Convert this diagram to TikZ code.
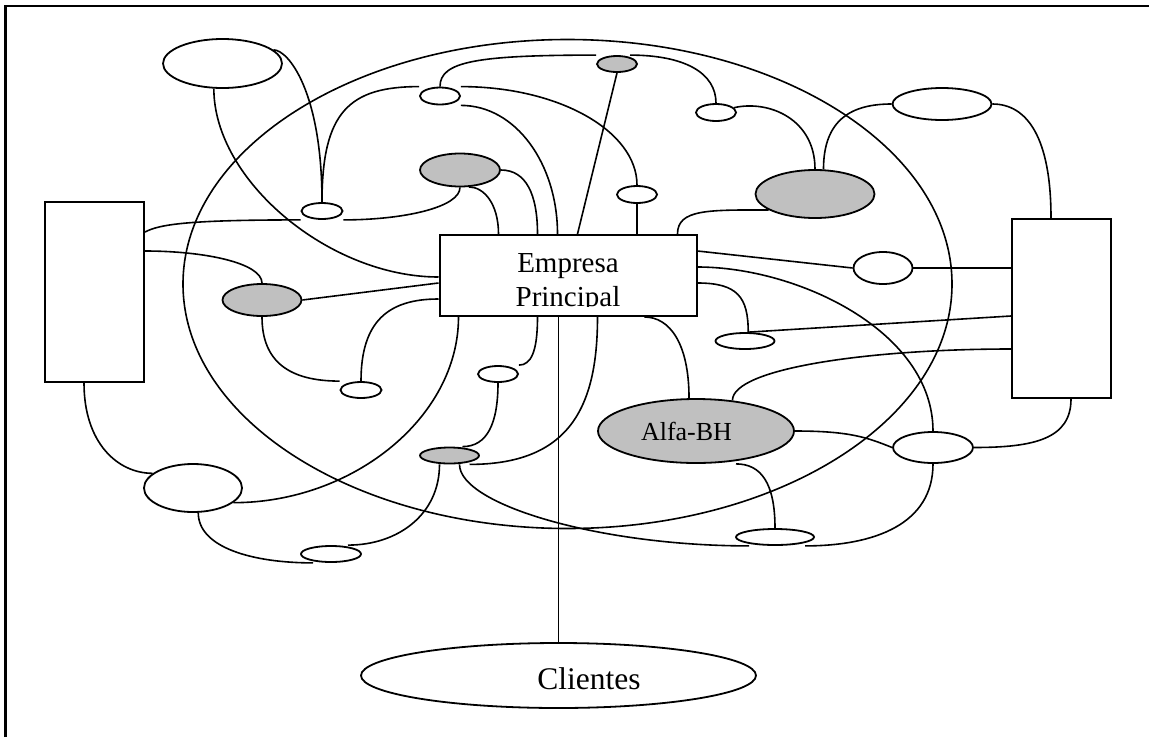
\documentclass[tikz,border=0pt]{standalone}
\usepackage{fontspec}
\setmainfont{Liberation Serif}
\usetikzlibrary{shapes.geometric,calc}
\pgfdeclarelayer{bg}
\pgfdeclarelayer{paper}
\pgfsetlayers{paper,bg,main}
\definecolor{grayfill}{HTML}{C0C0C0}
\tikzset{
  conn/.style={line width=1.6pt},
  oval/.style={draw, ellipse, line width=1.8pt, fill=white, inner sep=0pt},
  goval/.style={oval, fill=grayfill},
  boxnode/.style={draw, rectangle, line width=2pt, fill=white, inner sep=0pt},
}
\begin{document}
\begin{tikzpicture}[x=1pt,y=-1pt]
\useasboundingbox (0,0) rectangle (1149,737);
\begin{pgfonlayer}{paper}
\fill[white] (0,0) rectangle (1149,737);
\end{pgfonlayer}
\draw[line width=2.2pt] (5.5,737) -- (5.5,6) -- (1149,6);

% nodes
\node[oval, minimum width=119, minimum height=49] (TL) at (222.5,63.5) {};
\node[oval, minimum width=41, minimum height=16] (S1) at (322,211) {};
\node[oval, minimum width=40, minimum height=17] (S2) at (440,96) {};
\node[goval, minimum width=80, minimum height=33] (G1) at (460,170) {};
\node[goval, minimum width=40, minimum height=16] (G2) at (617,64) {};
\node[oval, minimum width=40, minimum height=17] (S3) at (716,112.5) {};
\node[oval, minimum width=40, minimum height=17] (S4) at (637,194.5) {};
\node[goval, minimum width=119, minimum height=48] (G3) at (815,194) {};
\node[oval, minimum width=99, minimum height=32] (TR) at (942,104) {};
\node[boxnode, minimum width=99, minimum height=180] (LR) at (94.5,292) {};
\node[boxnode, minimum width=99, minimum height=179] (RR) at (1061.5,308.5) {};
\node[boxnode, minimum width=257, minimum height=81] (emp) at (568,275.5) {};
\node[oval, minimum width=59, minimum height=32] (S5) at (883,268) {};
\node[oval, minimum width=59, minimum height=16] (S6) at (745,341) {};
\node[goval, minimum width=196, minimum height=64] (alfa) at (696,431) {};
\node[oval, minimum width=80, minimum height=31] (S7) at (933,447.5) {};
\node[oval, minimum width=78, minimum height=16] (S8) at (775,537) {};
\node[goval, minimum width=59, minimum height=16] (G5) at (449.5,455.5) {};
\node[oval, minimum width=40, minimum height=16] (S10) at (498,374) {};
\node[oval, minimum width=60, minimum height=16] (S9) at (331,554) {};
\node[oval, minimum width=98, minimum height=48] (M) at (193,488) {};
\node[goval, minimum width=79, minimum height=32] (G4) at (262,300) {};
\node[oval, minimum width=41, minimum height=16] (S11) at (361,390) {};
\node[oval, minimum width=395, minimum height=65] (cli) at (558.5,675.5) {};

% texts
\begin{scope}
  \clip (emp.north west) rectangle ($(emp.east)+(0,30.5)$);
  \node[font=\fontsize{29}{33}\selectfont, anchor=base] (empA) at (568,272.7) {Empresa};
  \node[font=\fontsize{29}{33}\selectfont, anchor=base] (empB) at (568,306) {Principal};
\end{scope}
\node[font=\fontsize{26}{30}\selectfont, anchor=base] (alfaT) at (686.5,440) {Alfa-BH};
\node[font=\fontsize{31.5}{36}\selectfont, anchor=base] (cliT) at (589,689) {Clientes};

\begin{pgfonlayer}{bg}
\draw[conn] (567.5,284) ellipse [x radius=384.5, y radius=244.5];

\draw[conn] (TL.251) .. controls +(0,92) and +(-109,0) .. ($(emp.west)+(0,1.5)$);
\draw[conn] (TL.15) .. controls +(15,0) and +(0,-110) .. (S1.north);
\draw[conn] (S1.north) .. controls +(0,-90) and +(-70,0) .. (S2.north -| S2.west);
\draw[conn] ($(LR.north east)+(0,31)$) .. controls +(15,-8) and +(-110,0) .. (S1.south -| S1.west);
\draw[conn] (S1.south -| S1.east) .. controls +(60,0) and +(0,20) .. (G1.south);
\draw[conn] (G1.east) .. controls +(25,0) and +(0,-40) .. ($(emp.north west)+(99,0)$);
\draw[conn] (G1.298) .. controls +(15,0) and +(0,-30) .. ($(emp.north west)+(60,0)$);
\draw[conn] (S2.north) .. controls +(0,-25) and +(-120,0) .. (G2.north -| G2.west);
\draw[conn] ($(G2.north)+(13,0)$) .. controls +(55,0) and +(0,-30) .. (S3.north);
\draw[conn] (S2.north -| S2.east) .. controls +(98,0) and +(0,-54) .. (S4.north);
\draw[conn] (S2.south -| S2.east) .. controls +(55,0) and +(0,-70) .. ($(emp.north west)+(119,0)$);
\draw[conn] (G2.south) -- ($(emp.north west)+(139,0)$);
\draw[conn] (S4.south) -- (S4.south |- emp.north);
\draw[conn] (S3.15) .. controls +(35,-8) and +(0,-50) .. (G3.north);
\draw[conn] (G3.71) .. controls +(0,-50) and +(-40,0) .. (TR.west);
\draw[conn] (TR.east) .. controls +(35,0) and +(0,-80) .. ($(RR.north)+(-10.5,0)$);
\draw[conn] (G3.199) .. controls +(-60,0) and +(0,-25) .. ($(emp.north east)+(-20,0)$);
\draw[conn] ($(emp.north east)+(0,17)$) -- (S5.west);
\draw[conn] (S5.east) -- (S5.east -| RR.west);
\draw[conn] ($(emp.north east)+(0,33)$) .. controls +(100,0) and +(0,-100) .. (S7.north);
\draw[conn] ($(emp.north east)+(0,49)$) .. controls +(40,0) and +(0,-35) .. (S6.70);
\draw[conn] (S6.70) -- ($(RR.north west)+(0,98)$);
\draw[conn] ($(RR.north west)+(0,131)$) .. controls +(-142,0) and +(0,-32) .. (alfa.40);
\draw[conn] (alfa.east) .. controls +(55,0) and +(-25,-10) .. (S7.west);
\draw[conn] (S7.east) .. controls +(60,0) and +(0,40) .. ($(RR.south)+(9.5,0)$);
\draw[conn] (S7.south) .. controls +(0,60) and +(70,0) .. ($(S8.south)+(30,0)$);
\draw[conn] ($(alfa.south)+(40,0)$) .. controls +(25,0) and +(0,-45) .. (S8.north);
\draw[conn] ($(emp.south east)+(-53,0)$) .. controls +(25,0) and +(0,-55) .. (alfa.102);
\draw[conn] ($(emp.south west)+(159,0)$) .. controls +(0,90) and +(100,0) .. ($(G5.south)+(20,0)$);
\draw[line width=1.3pt] (cli.north |- emp.south) -- (cli.north);
\draw[conn] ($(emp.south west)+(99,0)$) .. controls +(0,35) and +(12,0) .. (S10.north -| S10.east);
\draw[conn] (S10.south) .. controls +(0,40) and +(25,0) .. ($(G5.north)+(13,0)$);
\draw[conn] ($(emp.south west)+(20,0)$) .. controls +(0,100) and +(120,0) .. (M.-20);
\draw[conn] ($(emp.north west)+(0,49)$) -- (G4.east);
\draw[conn] ($(LR.north east)+(0,50)$) .. controls +(60,0) and +(0,-20) .. (G4.north);
\draw[conn] (G4.south) .. controls +(0,45) and +(-50,0) .. (S11.north -| S11.west);
\draw[conn] ($(emp.north west)+(0,65)$) .. controls +(-50,0) and +(0,-60) .. (S11.north);
\draw[conn] ($(LR.south)+(-10.5,0)$) .. controls +(0,60) and +(-35,0) .. (M.160);
\draw[conn] (M.282) .. controls +(0,35) and +(-60,0) .. ($(S9.south)+(-18,0)$);
\draw[conn] ($(G5.south)+(-10,0)$) .. controls +(0,50) and +(50,0) .. ($(S9.north)+(17,0)$);
\draw[conn] ($(G5.south)+(10,0)$) .. controls +(0,40) and +(-150,0) .. ($(S8.south)+(-26,0)$);
\end{pgfonlayer}
\end{tikzpicture}
\end{document}
